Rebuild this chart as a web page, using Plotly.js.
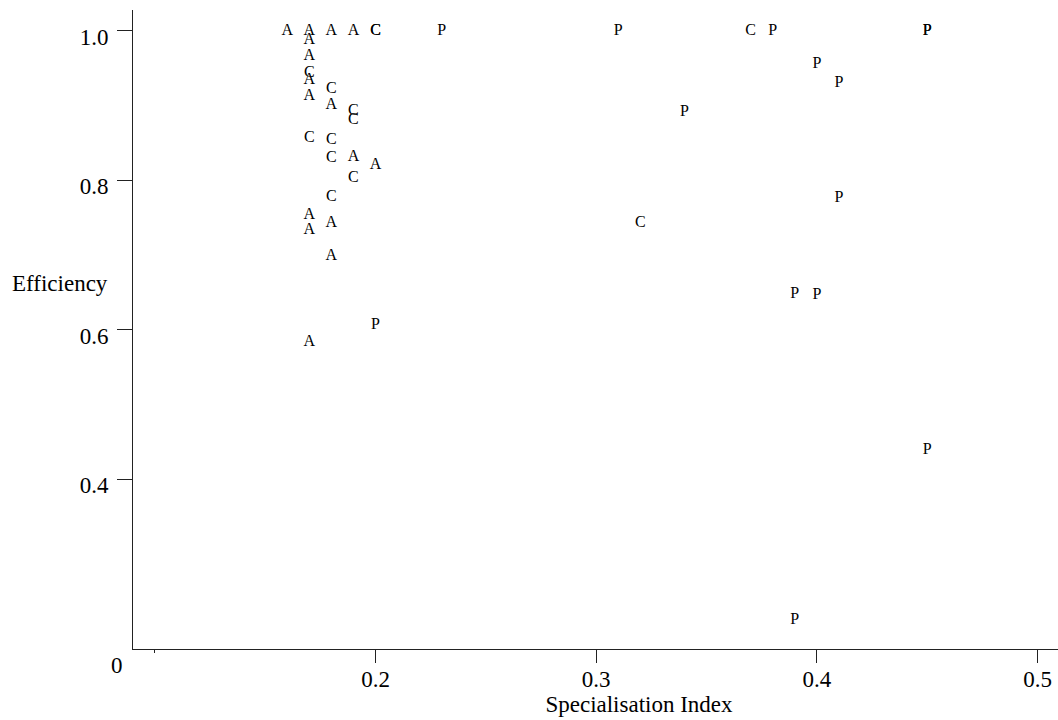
<!DOCTYPE html>
<html>
<head>
<meta charset="utf-8">
<script src="https://cdn.plot.ly/plotly-3.0.1.min.js"></script>
<style>
html, body { margin: 0; padding: 0; overflow: hidden; background: #fff; }
#chart { width: 1145px; height: 720px; }
</style>
</head>
<body>
<div id="chart"></div>
<script>
// Group A
const aX = [0.16, 0.17, 0.18, 0.19, 0.17, 0.17, 0.17, 0.17, 0.18, 0.19, 0.20, 0.17, 0.18, 0.17, 0.18, 0.17];
const aY = [1.000, 1.000, 1.000, 1.000, 0.987, 0.966, 0.934, 0.913, 0.900, 0.831, 0.820, 0.754, 0.743, 0.734, 0.698, 0.583];
// Group C
const cX = [0.20, 0.20, 0.37, 0.17, 0.18, 0.19, 0.19, 0.17, 0.18, 0.18, 0.19, 0.18, 0.32];
const cY = [1.000, 1.000, 1.000, 0.943, 0.922, 0.893, 0.881, 0.856, 0.854, 0.830, 0.803, 0.778, 0.743];
// Group P
const pX = [0.23, 0.31, 0.38, 0.45, 0.45, 0.40, 0.41, 0.34, 0.41, 0.39, 0.40, 0.20, 0.45, 0.39];
const pY = [1.000, 1.000, 1.000, 1.000, 1.000, 0.955, 0.930, 0.891, 0.776, 0.648, 0.647, 0.606, 0.439, 0.212];

const xTickVals = [0.2, 0.3, 0.4, 0.5];
const xTickText = ['0.2', '0.3', '0.4', '0.5'];
const yTickVals = [0.4, 0.6, 0.8, 1.0];
const yTickText = ['0.4', '0.6', '0.8', '1.0'];

const serif = "'Liberation Serif', 'Times New Roman', serif";

function group(xs, ys, label) {
  return {
    type: 'scatter', mode: 'text', x: xs, y: ys,
    text: xs.map(() => label), name: label,
    textposition: 'middle center',
    textfont: { family: serif, size: 16, color: '#000' },
    hoverinfo: 'x+y+name', showlegend: false, cliponaxis: false
  };
}

const data = [group(aX, aY, 'A'), group(cX, cY, 'C'), group(pX, pY, 'P')];

const layout = {
  width: 1145, height: 720,
  margin: { l: 133, r: 0, t: 10, b: 71, pad: 0 },
  paper_bgcolor: '#fff', plot_bgcolor: '#fff',
  font: { family: serif, size: 23, color: '#000' },
  showlegend: false,
  xaxis: {
    range: [0.0901, 0.5487], showgrid: false, zeroline: false,
    showline: true, linecolor: '#222', linewidth: 1,
    ticks: 'outside', ticklen: 13, tickcolor: '#222', tickwidth: 1,
    tickmode: 'array', tickvals: xTickVals, ticktext: xTickText,
    ticklabelstandoff: -4,
    tickfont: { family: serif, size: 23, color: '#000' },
    minor: { tickmode: 'array', tickvals: [0.1], ticks: 'outside', ticklen: 3, tickcolor: '#222', showgrid: false },
    title: { text: 'Specialisation Index', font: { family: serif, size: 23, color: '#000' }, standoff: 0 }
  },
  yaxis: {
    range: [0.1726, 1.0278], showgrid: false, zeroline: false,
    showline: true, linecolor: '#222', linewidth: 1,
    ticks: 'outside', ticklen: 15, tickcolor: '#222', tickwidth: 1,
    tickmode: 'array', tickvals: yTickVals, ticktext: yTickText,
    ticklabelshift: 6, ticklabelstandoff: 4,
    tickfont: { family: serif, size: 23, color: '#000' }
  },
  annotations: [
    { text: 'Efficiency', xref: 'paper', yref: 'paper', x: -0.0227, y: 0.5714,
      xanchor: 'right', yanchor: 'middle', showarrow: false,
      font: { family: serif, size: 23, color: '#000' } },
    { text: '0', xref: 'paper', yref: 'paper', x: -0.0161, y: -0.026,
      xanchor: 'center', yanchor: 'middle', showarrow: false,
      font: { family: serif, size: 23, color: '#000' } }
  ]
};

Plotly.newPlot('chart', data, layout, { displayModeBar: false, staticPlot: true });
</script>
</body>
</html>
